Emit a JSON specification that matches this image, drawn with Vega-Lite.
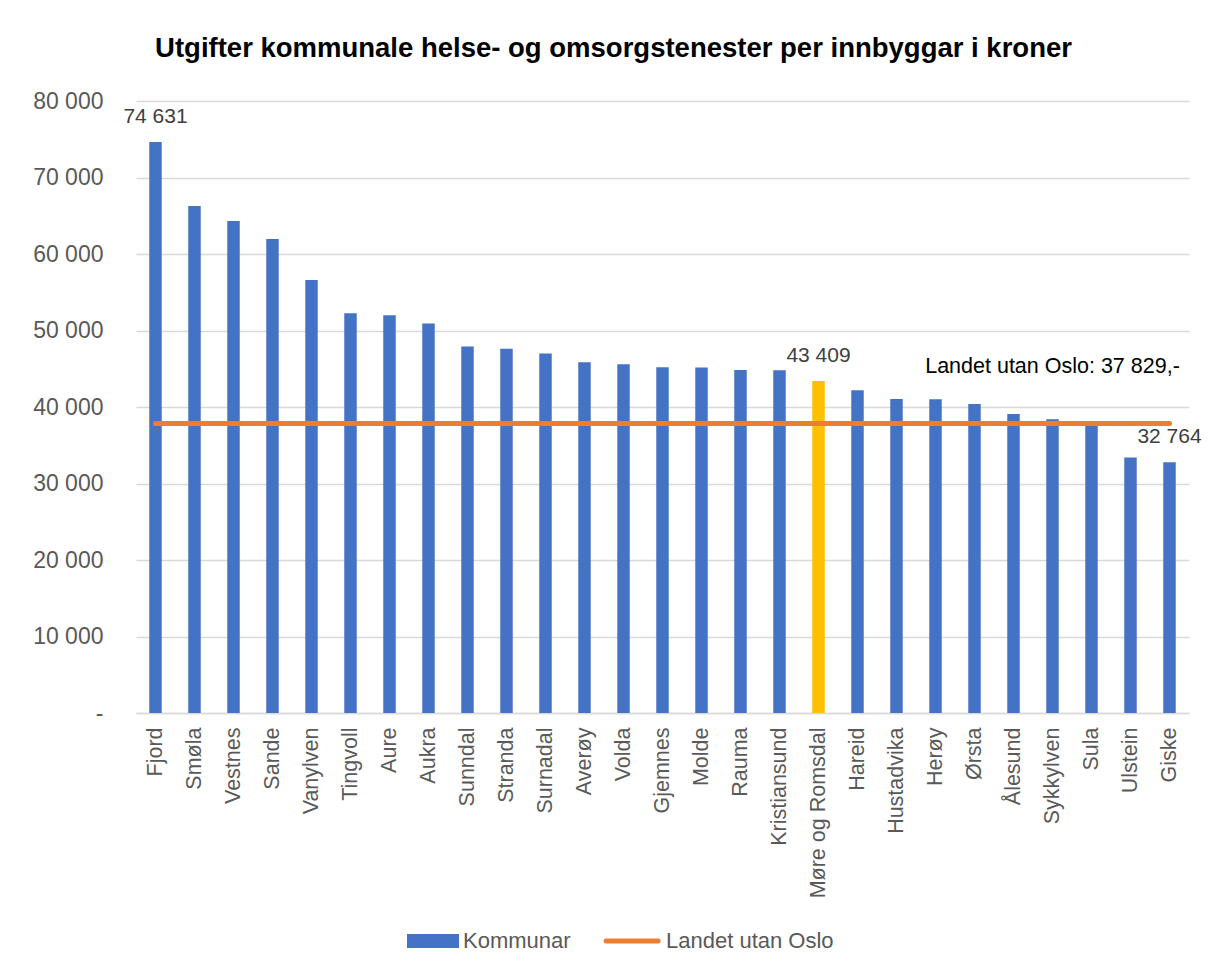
{
  "$schema": "https://vega.github.io/schema/vega-lite/v6.json",
  "autosize": "none",
  "width": 1053,
  "height": 612,
  "padding": {"left": 136, "top": 101, "right": 26, "bottom": 258},
  "background": "white",
  "title": {
    "text": "Utgifter kommunale helse- og omsorgstenester per innbyggar i kroner",
    "fontSize": 27.5,
    "fontWeight": "bold",
    "font": "Liberation Sans",
    "color": "#000000",
    "anchor": "middle",
    "offset": 28,
    "dx": -49
  },
  "config": {
    "locale": {"number": {"decimal": ",", "thousands": " ", "grouping": [3], "currency": ["", " kr"]}},
    "view": {"stroke": null},
    "font": "Liberation Sans"
  },
  "data": {
    "values": [
      {"kommune": "Fjord", "utgift": 74631, "gruppe": "Kommunar", "landet": 37829},
      {"kommune": "Smøla", "utgift": 66270, "gruppe": "Kommunar", "landet": 37829},
      {"kommune": "Vestnes", "utgift": 64300, "gruppe": "Kommunar", "landet": 37829},
      {"kommune": "Sande", "utgift": 61960, "gruppe": "Kommunar", "landet": 37829},
      {"kommune": "Vanylven", "utgift": 56600, "gruppe": "Kommunar", "landet": 37829},
      {"kommune": "Tingvoll", "utgift": 52250, "gruppe": "Kommunar", "landet": 37829},
      {"kommune": "Aure", "utgift": 51990, "gruppe": "Kommunar", "landet": 37829},
      {"kommune": "Aukra", "utgift": 50900, "gruppe": "Kommunar", "landet": 37829},
      {"kommune": "Sunndal", "utgift": 47900, "gruppe": "Kommunar", "landet": 37829},
      {"kommune": "Stranda", "utgift": 47600, "gruppe": "Kommunar", "landet": 37829},
      {"kommune": "Surnadal", "utgift": 47000, "gruppe": "Kommunar", "landet": 37829},
      {"kommune": "Averøy", "utgift": 45850, "gruppe": "Kommunar", "landet": 37829},
      {"kommune": "Volda", "utgift": 45580, "gruppe": "Kommunar", "landet": 37829},
      {"kommune": "Gjemnes", "utgift": 45190, "gruppe": "Kommunar", "landet": 37829},
      {"kommune": "Molde", "utgift": 45150, "gruppe": "Kommunar", "landet": 37829},
      {"kommune": "Rauma", "utgift": 44840, "gruppe": "Kommunar", "landet": 37829},
      {"kommune": "Kristiansund", "utgift": 44800, "gruppe": "Kommunar", "landet": 37829},
      {"kommune": "Møre og Romsdal", "utgift": 43409, "gruppe": "Fylket", "landet": 37829},
      {"kommune": "Hareid", "utgift": 42180, "gruppe": "Kommunar", "landet": 37829},
      {"kommune": "Hustadvika", "utgift": 41050, "gruppe": "Kommunar", "landet": 37829},
      {"kommune": "Herøy", "utgift": 41000, "gruppe": "Kommunar", "landet": 37829},
      {"kommune": "Ørsta", "utgift": 40400, "gruppe": "Kommunar", "landet": 37829},
      {"kommune": "Ålesund", "utgift": 39080, "gruppe": "Kommunar", "landet": 37829},
      {"kommune": "Sykkylven", "utgift": 38400, "gruppe": "Kommunar", "landet": 37829},
      {"kommune": "Sula", "utgift": 37750, "gruppe": "Kommunar", "landet": 37829},
      {"kommune": "Ulstein", "utgift": 33400, "gruppe": "Kommunar", "landet": 37829},
      {"kommune": "Giske", "utgift": 32764, "gruppe": "Kommunar", "landet": 37829}
    ]
  },
  "encoding": {
    "x": {
      "field": "kommune",
      "type": "nominal",
      "sort": null,
      "title": null,
      "scale": {"paddingInner": 0.68, "paddingOuter": 0.34},
      "axis": {
        "labelAngle": -90,
        "labelAlign": "right",
        "labelBaseline": "middle",
        "labelFontSize": 21.5,
        "labelColor": "#595959",
        "labelPadding": 14,
        "ticks": false,
        "domainColor": "#D9D9D9",
        "domainWidth": 1.5,
        "labelFont": "Liberation Sans"
      }
    }
  },
  "layer": [
    {
      "mark": {"type": "bar"},
      "encoding": {
        "y": {
          "field": "utgift",
          "type": "quantitative",
          "title": null,
          "scale": {"domain": [0, 80000], "nice": false},
          "axis": {
            "values": [0, 10000, 20000, 30000, 40000, 50000, 60000, 70000, 80000],
            "labelExpr": "datum.value == 0 ? '-' : format(datum.value, ',')",
            "labelFontSize": 23,
            "labelColor": "#595959",
            "labelPadding": 33,
            "ticks": false,
            "domain": false,
            "gridColor": "#D9D9D9",
            "gridWidth": 1.5,
            "labelFont": "Liberation Sans"
          }
        },
        "color": {
          "field": "gruppe",
          "type": "nominal",
          "scale": {
            "domain": ["Kommunar", "Landet utan Oslo", "Fylket"],
            "range": ["#4472C4", "#ED7D31", "#FFC000"]
          },
          "legend": {
            "values": ["Kommunar", "Landet utan Oslo"],
            "title": null,
            "orient": "none",
            "direction": "horizontal",
            "legendX": 286,
            "legendY": 829,
            "labelFontSize": 22,
            "labelColor": "#595959",
            "labelFont": "Liberation Sans",
            "labelLimit": 400,
            "symbolSize": 2704,
            "labelOffset": 19,
            "columnPadding": 25,
            "encode": {
              "symbols": {
                "update": {
                  "shape": {"signal": "datum.label === 'Kommunar' ? 'M-1,-0.27H1V0.27H-1Z' : 'M-1.15,0H0.85'"},
                  "fill": {"signal": "datum.label === 'Kommunar' ? '#4472C4' : 'transparent'"},
                  "stroke": {"signal": "datum.label === 'Kommunar' ? 'transparent' : '#ED7D31'"},
                  "strokeWidth": {"signal": "datum.label === 'Kommunar' ? 0 : 5"},
                  "strokeCap": {"value": "round"},
                  "opacity": {"value": 1},
                  "fillOpacity": {"value": 1}
                }
              }
            }
          }
        }
      }
    },
    {
      "mark": {"type": "line", "strokeWidth": 5, "strokeCap": "round"},
      "encoding": {
        "y": {"field": "landet", "type": "quantitative"},
        "color": {"datum": "Landet utan Oslo"}
      }
    },
    {
      "transform": [{"filter": {"field": "kommune", "oneOf": ["Fjord", "Møre og Romsdal", "Giske"]}}],
      "mark": {"type": "text", "baseline": "alphabetic", "dy": -19, "fontSize": 21, "color": "#404040", "font": "Liberation Sans"},
      "encoding": {
        "y": {"field": "utgift", "type": "quantitative"},
        "text": {"field": "utgift", "type": "quantitative", "format": ","}
      }
    },
    {
      "data": {"values": [{"tekst": "Landet utan Oslo: 37 829,-"}]},
      "mark": {"type": "text", "baseline": "alphabetic", "align": "center", "fontSize": 21.5, "color": "#000000", "font": "Liberation Sans"},
      "encoding": {
        "x": {"datum": "Sykkylven"},
        "y": {"datum": 44450},
        "text": {"field": "tekst", "type": "nominal"}
      }
    }
  ]
}
